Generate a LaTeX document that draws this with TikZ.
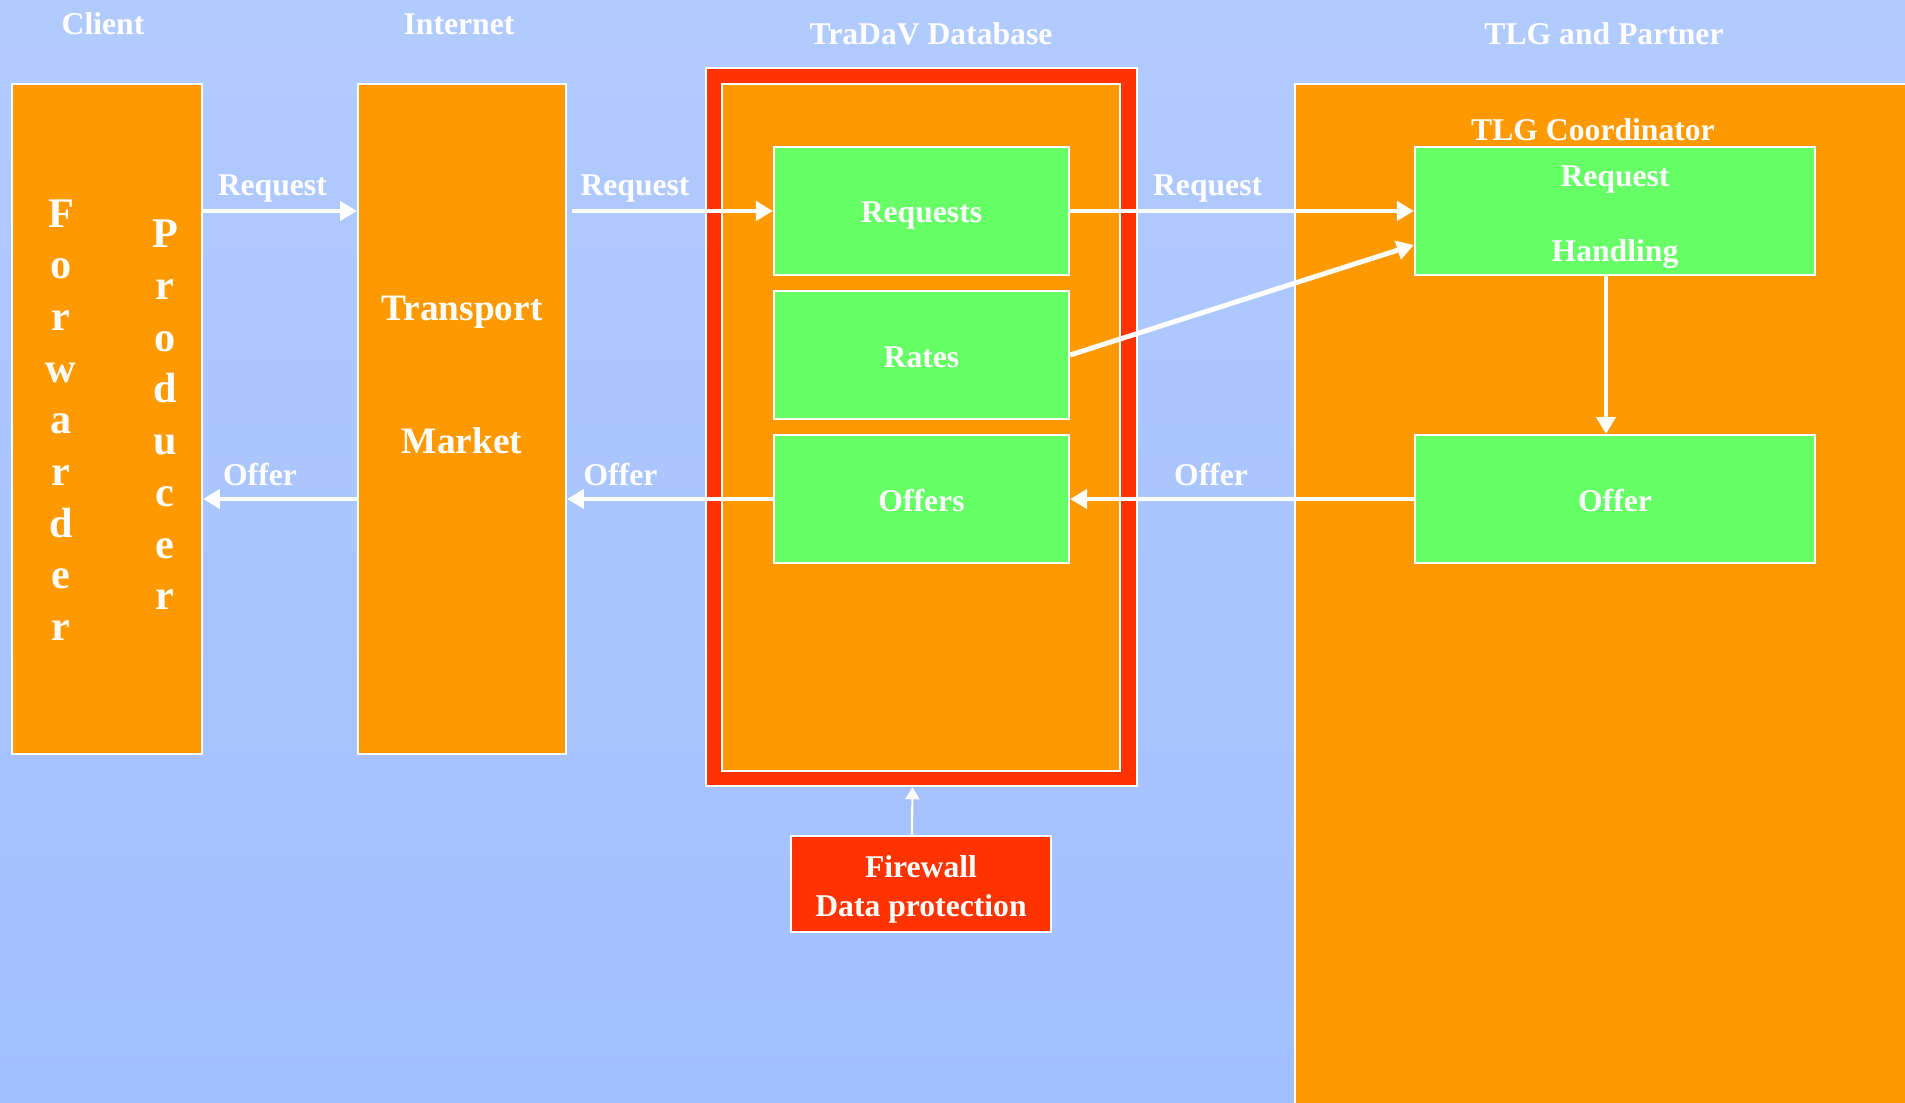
\documentclass[tikz,border=0pt]{standalone}
\usepackage{fontspec}
\setmainfont{Liberation Serif}
\usetikzlibrary{arrows.meta}
\definecolor{bgtop}{RGB}{178,203,255}
\definecolor{bgmid}{RGB}{210,225,255}
\definecolor{bgbot}{RGB}{161,192,255}
\definecolor{orangefill}{RGB}{255,153,0}
\definecolor{greenfill}{RGB}{102,255,102}
\definecolor{redfill}{RGB}{255,51,0}
% move the ink of a text down, keeping its box
\newcommand{\sinktext}[2]{\raisebox{-#1}[\height][\depth]{#2}}

\begin{document}
\begin{tikzpicture}[x=0.01cm,y=-0.01cm,
	box/.style={draw=white,line width=0.6pt,inner sep=0pt},
	orangebox/.style={box,fill=orangefill},
	greenbox/.style={box,fill=greenfill,text=white,font=\fontsize{9}{11}\selectfont\bfseries,align=center},
	txt/.style={text=white,font=\fontsize{9}{11}\selectfont\bfseries,inner sep=3pt},
	letters/.style={text=white,font=\fontsize{12}{14.7}\selectfont\bfseries,align=center,inner sep=0pt},
	flow/.style={white,line width=1.4pt,-{Triangle[length=4.8pt,width=5.4pt]}},
	thinflow/.style={white,line width=0.6pt,-{Triangle[length=3.4pt,width=4pt]}}]
	\useasboundingbox (0,0) rectangle (1905,1103);
	\clip (0,0) rectangle (1905,1103);
	% background
	\shade[top color=bgtop,middle color=bgmid,bottom color=bgbot] (0,0) rectangle (1905,1103);
	% column titles
	\node[txt] (client) at (103,24) {Client};
	\node[txt] (internet) at (459,24) {Internet};
	\node[txt] (dbtitle) at (931,34) {TraDaV Database};
	\node[txt] (tlgtitle) at (1604,34) {TLG and Partner};
	% client
	\node[orangebox,minimum width=1.9cm,minimum height=6.7cm] (fp) at (107,419) {};
	\node[letters] (fwd) at (61,420) {F\\o\\r\\w\\a\\r\\d\\e\\r};
	\node[letters] (prod) at (165,415) {P\\r\\o\\d\\u\\c\\e\\r};
	% internet
	\node[orangebox,minimum width=2.08cm,minimum height=6.7cm] (tm) at (462,419) {};
	\node[txt,font=\fontsize{10.6}{38}\selectfont\bfseries,align=center] (tmtext) at (462,375) {Transport\\Market};
	% database
	\node[box,fill=redfill,minimum width=4.31cm,minimum height=7.18cm] (db) at (921.5,427) {};
	\node[orangebox,minimum width=3.98cm,minimum height=6.87cm] (dbin) at (921,427.5) {};
	\node[greenbox,minimum width=2.95cm,minimum height=1.28cm] (requests) at (921.5,211) {\sinktext{1.4pt}{Requests}};
	\node[greenbox,minimum width=2.95cm,minimum height=1.28cm] (rates) at (921.5,355) {\sinktext{0.7pt}{Rates}};
	\node[greenbox,minimum width=2.95cm,minimum height=1.28cm] (offers) at (921.5,499) {\sinktext{0.4pt}{Offers}};
	\node[box,fill=redfill,minimum width=2.6cm,minimum height=0.96cm,text=white,font=\fontsize{9}{11.1}\selectfont\bfseries,align=center] (fw) at (921,884) {\sinktext{1.4pt}{Firewall}\\\sinktext{1.4pt}{Data protection}};
	% TLG and partner
	\node[orangebox,minimum width=6.3cm,minimum height=10.5cm] (tlg) at (1610,609) {};
	\node[greenbox,minimum width=4cm,minimum height=1.28cm,font=\fontsize{9}{21.3}\selectfont\bfseries] (rh) at (1615,211) {\sinktext{1.7pt}{Request}\\\sinktext{1.7pt}{Handling}};
	\node[txt] (coord) at (1593,130) {TLG Coordinator};
	\node[greenbox,minimum width=4cm,minimum height=1.28cm] (offer) at (1615,499) {\sinktext{0.4pt}{Offer}};
	% flows
	\draw[flow] (fp.east |- requests) -- node[txt,above,pos=0.45,yshift=-0.04cm]{Request} (tm.west |- requests);
	\draw[flow,shorten <=1.5pt] (tm.east |- requests) -- node[txt,above,pos=0.33,yshift=-0.04cm]{Request} (requests.west);
	\draw[flow] (requests.east) -- node[txt,above,pos=0.4,yshift=-0.04cm]{Request} (rh.west |- requests);
	\draw[flow] (rates.east) -- ([yshift=-0.34cm]rh.west);
	\draw[flow] ([xshift=-0.09cm]rh.south) -- ([xshift=-0.09cm]offer.north);
	\draw[flow] (offer.west) -- node[txt,above,pos=0.59]{Offer} (offers.east);
	\draw[flow] (offers.west) -- node[txt,above,pos=0.74]{Offer} (tm.east |- offers);
	\draw[flow] (tm.west |- offers) -- node[txt,above,pos=0.63]{Offer} (fp.east |- offers);
	\draw[thinflow] ([xshift=-0.09cm]fw.north) -- ([xshift=-0.09cm]db.south);
\end{tikzpicture}
\end{document}
